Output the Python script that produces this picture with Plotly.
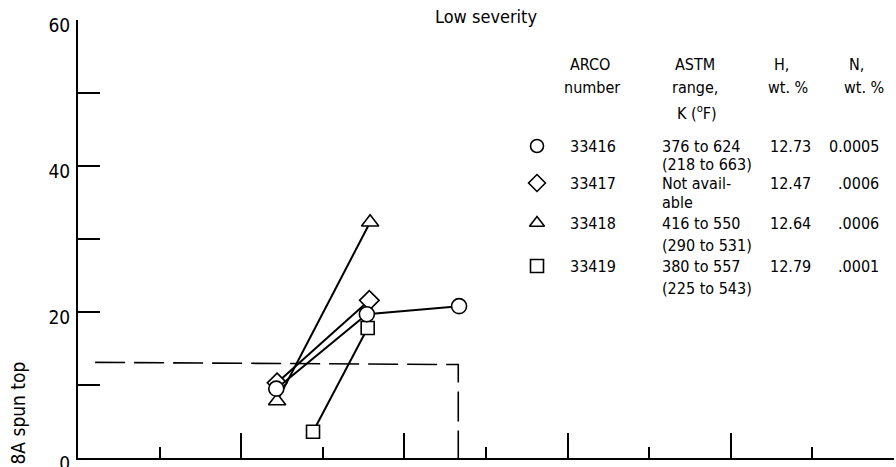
import plotly.graph_objects as go

# Measured series (x in axis units 0-10, y on 0-60 scale)
circle_x = [2.43, 3.54, 4.67]
circle_y = [9.5, 19.7, 20.8]
diamond_x = [2.44, 3.57]
diamond_y = [10.3, 21.6]
triangle_x = [2.44, 3.58]
triangle_y = [7.8, 32.3]
square_x = [2.88, 3.55]
square_y = [3.6, 17.8]

# Dashed limit boundary
limit_x = [0.21, 4.66, 4.66]
limit_y = [13.1, 12.8, 0.0]

# Key table contents
arco_numbers = ["33416", "33417", "33418", "33419"]
astm_line1 = ["376 to 624", "Not avail-", "416 to 550", "380 to 557"]
astm_line2 = ["(218 to 663)", "able", "(290 to 531)", "(225 to 543)"]
h_values = ["12.73", "12.47", "12.64", "12.79"]
n_values = ["0.0005", ".0006", ".0006", ".0001"]
key_symbols = ["circle-open", "diamond-open", "triangle-up-open", "square-open"]

y_tickvals = [0, 20, 40, 60]
y_ticktext = ["0", "20", "40", "60"]

FONT = "DejaVu Sans Condensed, DejaVu Sans, sans-serif"
W, H = 896, 467
L, R, T, B = 78, 2, 20, 9
PW, PH = W - L - R, H - T - B


def px(x):
    return (x - L) / PW


def py(y):
    return (H - B - y) / PH


fig = go.Figure()

fig.add_trace(go.Scatter(
    x=limit_x, y=limit_y, mode="lines",
    line=dict(color="black", width=1.6, dash="30px,9px"),
    hoverinfo="skip", showlegend=False))

series = [
    (triangle_x, triangle_y, "triangle-up", 15),
    (square_x, square_y, "square", 13),
    (diamond_x, diamond_y, "diamond", 15),
    (circle_x, circle_y, "circle", 15),
]
for xs, ys, sym, size in series:
    fig.add_trace(go.Scatter(
        x=xs, y=ys, mode="lines+markers",
        line=dict(color="black", width=2),
        marker=dict(symbol=sym, size=size, color="white",
                    line=dict(color="black", width=1.6)),
        showlegend=False))

# Key table rows (pixel positions of each row)
row_y = [146, 183, 223, 266]
sub_y = [164, 202, 245, 288]

fig.add_trace(go.Scatter(
    x=[px(537)] * 4, y=[py(v) for v in row_y], mode="markers",
    marker=dict(symbol=key_symbols, size=13, color="black",
                line=dict(color="black", width=1.6)),
    xaxis="x2", yaxis="y2", showlegend=False, hoverinfo="skip"))

ann = []


def text(s, x, y, anchor="center", size=16):
    ann.append(dict(text=s, x=px(x), y=py(y), xref="paper", yref="paper",
                    xanchor=anchor, yanchor="middle", showarrow=False,
                    font=dict(family=FONT, size=size, color="black")))


text("Low severity", 486, 17, size=18)

# Header
text("ARCO", 590, 65)
text("number", 592, 87)
text("ASTM", 695, 65)
text("range,", 695, 87)
text("K (<sup>o</sup>F)", 697, 112)
text("H,", 781, 65)
text("wt. %", 788, 87)
text("N,", 856, 65)
text("wt. %", 864, 87)

for i in range(4):
    text(arco_numbers[i], 593, row_y[i])
    text(astm_line1[i], 660, row_y[i], anchor="left")
    text(astm_line2[i], 660, sub_y[i], anchor="left")
    text(h_values[i], 768, row_y[i], anchor="left")
    text(n_values[i], 881, row_y[i], anchor="right")

# Axis title (rotated)
ann.append(dict(text="8A spun top", x=px(17), y=py(467), xref="paper", yref="paper",
                xanchor="center", yanchor="bottom", textangle=-90, showarrow=False,
                font=dict(family=FONT, size=19, color="black")))

fig.update_layout(
    width=W, height=H,
    margin=dict(l=L, r=R, t=T, b=B, autoexpand=False),
    paper_bgcolor="white", plot_bgcolor="white",
    annotations=ann,
    xaxis=dict(range=[0, 10], showgrid=False, zeroline=False, automargin=False,
               showline=True, linecolor="black", linewidth=2,
               ticks="inside", ticklen=25, tickwidth=2, tickcolor="black",
               tick0=0, dtick=2, showticklabels=False,
               minor=dict(ticks="inside", ticklen=11, tickwidth=2,
                          tickcolor="black", dtick=1, tick0=0)),
    yaxis=dict(range=[0, 60], showgrid=False, zeroline=False, automargin=False,
               showline=True, linecolor="black", linewidth=2,
               ticks="inside", ticklen=22, tickwidth=2, tickcolor="black",
               tickvals=y_tickvals, ticktext=y_ticktext,
               ticklabelshift=5, ticklabelstandoff=2,
               ticklabeloverflow="allow",
               tickfont=dict(family=FONT, size=19, color="black"),
               minor=dict(ticks="inside", ticklen=22, tickwidth=2,
                          tickcolor="black", tickvals=[10, 30, 50])),
    xaxis2=dict(range=[0, 1], overlaying="x", visible=False),
    yaxis2=dict(range=[0, 1], overlaying="y", visible=False),
)

fig.write_html("out.html")
